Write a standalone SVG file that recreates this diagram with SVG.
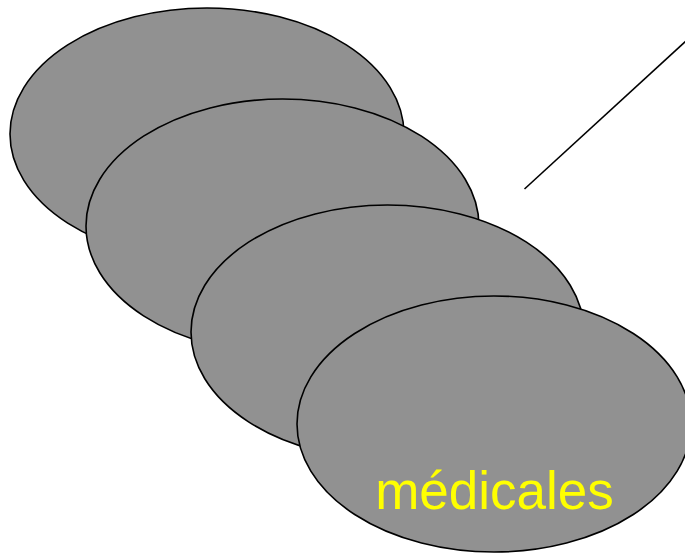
<svg xmlns="http://www.w3.org/2000/svg" width="685" height="553" viewBox="0 0 685 553">
<style>
.oval{fill:#919191;stroke:#000;stroke-width:1.6}
.lbl{font-family:"Liberation Sans",Arial,sans-serif;font-size:53px;fill:#FFFF00;text-anchor:middle}
</style>
<rect width="685" height="553" fill="#fff"/>
<g id="connectors">
<line x1="524.5" y1="189" x2="686" y2="41" stroke="#000" stroke-width="1.6"/>
</g>
<g id="n1"><ellipse class="oval" cx="207" cy="134" rx="197" ry="126"/></g>
<g id="n2"><ellipse class="oval" cx="282.5" cy="226" rx="196.5" ry="127"/></g>
<g id="n3"><ellipse class="oval" cx="387.5" cy="332" rx="196.5" ry="127"/></g>
<g id="n4"><ellipse class="oval" cx="494" cy="424" rx="197" ry="128"/><text class="lbl" x="494.5" y="509">médicales</text></g>
</svg>
